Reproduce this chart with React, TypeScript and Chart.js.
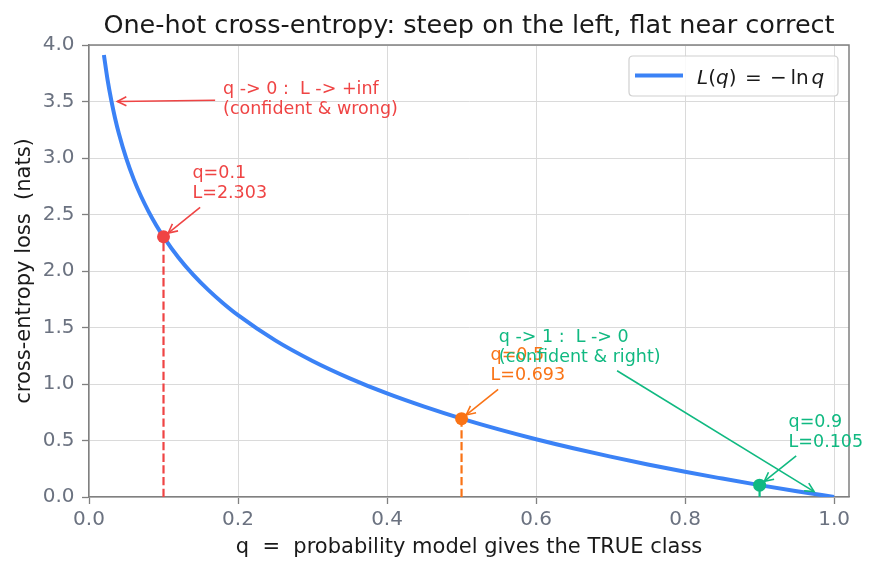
import React, { useEffect, useRef } from "react";
import { Chart, registerables } from "chart.js";

Chart.register(...registerables);

const FONT = '"DejaVu Sans", "Noto Sans", sans-serif';

// samples of the plotted curve L(q) = -ln q
const qValues = [0.02, 0.025, 0.03, 0.035, 0.04, 0.05, 0.06, 0.07, 0.08, 0.09, 0.1, 0.12, 0.14, 0.16, 0.18, 0.2, 0.25, 0.3, 0.35, 0.4, 0.45, 0.5, 0.55, 0.6, 0.65, 0.7, 0.75, 0.8, 0.85, 0.9, 0.95, 1.0];
const lossValues = [3.912, 3.689, 3.507, 3.352, 3.219, 2.996, 2.813, 2.659, 2.526, 2.408, 2.303, 2.12, 1.966, 1.833, 1.715, 1.609, 1.386, 1.204, 1.05, 0.916, 0.799, 0.693, 0.598, 0.511, 0.431, 0.357, 0.288, 0.223, 0.163, 0.105, 0.051, 0.0];

const xTicks = [0.0, 0.2, 0.4, 0.6, 0.8, 1.0];
const yTicks = [0.0, 0.5, 1.0, 1.5, 2.0, 2.5, 3.0, 3.5, 4.0];

const markedQ = [0.1, 0.5, 0.9];
const markedLoss = [2.303, 0.693, 0.105];
const markedColors = ["#ef4444", "#f97316", "#10b981"];

const limitLines = [
  ["q -> 0 :  L -> +inf", "(confident & wrong)"],
  ["q -> 1 :  L -> 0", "(confident & right)"],
];
const limitTargetQ = [0.03, 0.98];
const limitTargetL = [3.5, 0.02];
const limitTextQ = [0.18, 0.55];
const limitTextL = [3.48, 1.28];
const limitColors = ["#ef4444", "#10b981"];

const titleText = "One-hot cross-entropy: steep on the left, flat near correct";
const xLabel = "q  =  probability model gives the TRUE class";
const yLabel = "cross-entropy loss  (nats)";

const BLUE = "#3b82f6";
const TICK_GRAY = "#6b7280";
const SPINE = "#808080";
const DARK = "#1a1a1a";

function drawArrow(ctx: CanvasRenderingContext2D, sx: number, sy: number, ex: number, ey: number, color: string) {
  ctx.strokeStyle = color;
  ctx.lineWidth = 1.6;
  ctx.setLineDash([]);
  ctx.beginPath();
  ctx.moveTo(sx, sy);
  ctx.lineTo(ex, ey);
  ctx.stroke();
  const ang = Math.atan2(ey - sy, ex - sx);
  const c = Math.cos(ang), s = Math.sin(ang);
  const hl = 9, hw = 4.5;
  ctx.beginPath();
  ctx.moveTo(ex - hl * c + hw * s, ey - hl * s - hw * c);
  ctx.lineTo(ex, ey);
  ctx.lineTo(ex - hl * c - hw * s, ey - hl * s + hw * c);
  ctx.stroke();
}

function drawNote(ctx: CanvasRenderingContext2D, lines: string[], x: number, midY: number, tx: number, ty: number, color: string) {
  const fs = 17.5, lh = 20;
  ctx.font = `${fs}px ${FONT}`;
  const n = lines.length;
  const baselines = lines.map((_, k) => midY + (k - (n - 1) / 2) * lh);
  const w = Math.max(...lines.map((l) => ctx.measureText(l).width));
  const top = baselines[0] - 0.76 * fs;
  const bottom = baselines[n - 1] + 0.24 * fs;
  const cx = x + w / 2, cy = (top + bottom) / 2;
  const dx = tx - cx, dy = ty - cy;
  let t = Infinity;
  if (dx !== 0) t = Math.min(t, ((dx > 0 ? x + w : x) - cx) / dx);
  if (dy !== 0) t = Math.min(t, ((dy > 0 ? bottom : top) - cy) / dy);
  let sx = cx + dx * t, sy = cy + dy * t;
  const len = Math.hypot(tx - sx, ty - sy);
  const ux = (tx - sx) / len, uy = (ty - sy) / len;
  sx += ux * 8;
  sy += uy * 8;
  const ex = tx - ux * 6, ey = ty - uy * 6;
  drawArrow(ctx, sx, sy, ex, ey, color);
  ctx.fillStyle = color;
  ctx.textAlign = "left";
  ctx.textBaseline = "alphabetic";
  lines.forEach((l, k) => ctx.fillText(l, x, baselines[k]));
}

const overlay = {
  id: "overlay",
  afterDatasetsDraw(chart: any) {
    const { ctx, chartArea: a, scales } = chart;
    const xs = scales.x, ys = scales.y;
    ctx.save();
    // top & right spines
    ctx.strokeStyle = SPINE;
    ctx.lineWidth = 1.5;
    ctx.setLineDash([]);
    ctx.beginPath();
    ctx.moveTo(a.left, a.top);
    ctx.lineTo(a.right, a.top);
    ctx.lineTo(a.right, a.bottom);
    ctx.stroke();

    // point notes
    markedQ.forEach((q, i) => {
      const px = xs.getPixelForValue(q), py = ys.getPixelForValue(markedLoss[i]);
      drawNote(ctx, [`q=${q}`, `L=${markedLoss[i].toFixed(3)}`], px + 29, py - 48.5, px, py, markedColors[i]);
    });
    // limit notes
    limitLines.forEach((lines, i) => {
      drawNote(
        ctx,
        lines,
        xs.getPixelForValue(limitTextQ[i]),
        ys.getPixelForValue(limitTextL[i]),
        xs.getPixelForValue(limitTargetQ[i]),
        ys.getPixelForValue(limitTargetL[i]),
        limitColors[i]
      );
    });

    // legend
    const lx = 629, ly = 56, lw = 209, lhgt = 40, r = 4;
    ctx.beginPath();
    ctx.moveTo(lx + r, ly);
    ctx.lineTo(lx + lw - r, ly);
    ctx.quadraticCurveTo(lx + lw, ly, lx + lw, ly + r);
    ctx.lineTo(lx + lw, ly + lhgt - r);
    ctx.quadraticCurveTo(lx + lw, ly + lhgt, lx + lw - r, ly + lhgt);
    ctx.lineTo(lx + r, ly + lhgt);
    ctx.quadraticCurveTo(lx, ly + lhgt, lx, ly + lhgt - r);
    ctx.lineTo(lx, ly + r);
    ctx.quadraticCurveTo(lx, ly, lx + r, ly);
    ctx.closePath();
    ctx.fillStyle = "rgba(255,255,255,0.85)";
    ctx.fill();
    ctx.strokeStyle = "#d0d0d0";
    ctx.lineWidth = 1.2;
    ctx.stroke();
    ctx.strokeStyle = BLUE;
    ctx.lineWidth = 4;
    ctx.beginPath();
    ctx.moveTo(635, 75.5);
    ctx.lineTo(683, 75.5);
    ctx.stroke();
    const base = 83.5;
    const fsz = 20;
    const reg = `${fsz}px ${FONT}`;
    const ita = `italic ${fsz}px ${FONT}`;
    ctx.fillStyle = DARK;
    ctx.textBaseline = "alphabetic";
    ctx.textAlign = "left";
    let cxp = 697;
    const pieces: [string, string][] = [["L", ita], ["(", reg], ["q", ita], [")", reg]];
    pieces.forEach(([t, f]) => {
      ctx.font = f;
      ctx.fillText(t, cxp, base);
      cxp += ctx.measureText(t).width;
    });
    ctx.font = reg;
    ctx.textAlign = "center";
    ctx.fillText("=", 753.3, base);
    ctx.fillText("\u2212", 778.3, base);
    ctx.textAlign = "left";
    ctx.fillText("ln", 790.5, base);
    ctx.font = ita;
    ctx.fillText("q", 811.5, base);

    // title
    ctx.font = `25.5px ${FONT}`;
    ctx.fillStyle = DARK;
    ctx.textAlign = "center";
    ctx.fillText(titleText, (a.left + a.right) / 2, 33);
    ctx.restore();
  },
};

export default function App() {
  const ref = useRef<HTMLCanvasElement>(null);
  useEffect(() => {
    const canvas = ref.current;
    if (!canvas) return;
    const curve = qValues.map((q, i) => ({ x: q, y: lossValues[i] }));
    const dashed = markedQ.map((q, i) => ({
      data: [
        { x: q, y: 0 },
        { x: q, y: markedLoss[i] },
      ],
      showLine: true,
      borderColor: markedColors[i],
      borderWidth: 2.2,
      borderDash: [8.3, 3.4],
      pointRadius: 0,
      order: 2,
    }));
    const chart = new Chart(canvas, {
      type: "scatter",
      data: {
        datasets: [
          {
            label: "L(q) = -ln q",
            data: curve,
            showLine: true,
            borderColor: BLUE,
            borderWidth: 4,
            pointRadius: 0,
            cubicInterpolationMode: "monotone",
            order: 3,
          } as any,
          ...dashed,
          {
            data: markedQ.map((q, i) => ({ x: q, y: markedLoss[i] })),
            showLine: false,
            pointRadius: 6.5,
            pointBorderWidth: 0,
            pointBackgroundColor: markedColors,
            pointBorderColor: markedColors,
            order: 1,
          },
        ],
      },
      options: {
        responsive: false,
        maintainAspectRatio: false,
        devicePixelRatio: 1,
        animation: false,
        events: [],
        layout: { padding: { top: 45, right: 28, left: 0, bottom: 0 } },
        plugins: {
          legend: { display: false },
          tooltip: { enabled: false },
          title: { display: false },
        },
        scales: {
          x: {
            type: "linear",
            min: 0,
            max: 1.02,
            afterBuildTicks: (s: any) => {
              s.ticks = xTicks.map((v) => ({ value: v }));
            },
            afterFit: (s: any) => {
              s.height = 76;
            },
            ticks: {
              color: TICK_GRAY,
              font: { family: FONT, size: 20 },
              padding: 4,
              maxRotation: 0,
              callback: (v: any) => Number(v).toFixed(1),
            },
            grid: { color: "#dadada", lineWidth: 1, tickColor: SPINE, tickLength: 7, tickWidth: 1.3 },
            border: { color: SPINE, width: 1.5 },
            title: {
              display: true,
              text: xLabel,
              color: DARK,
              font: { family: FONT, size: 21 },
              padding: { top: 0, bottom: 13 },
            },
          },
          y: {
            type: "linear",
            min: 0,
            max: 4,
            afterBuildTicks: (s: any) => {
              s.ticks = yTicks.map((v) => ({ value: v }));
            },
            afterFit: (s: any) => {
              s.width = 89;
            },
            ticks: {
              color: TICK_GRAY,
              font: { family: FONT, size: 20 },
              padding: 7.5,
              callback: (v: any) => Number(v).toFixed(1),
            },
            grid: { color: "#dadada", lineWidth: 1, tickColor: SPINE, tickLength: 7, tickWidth: 1.3 },
            border: { color: SPINE, width: 1.5 },
            title: {
              display: true,
              text: yLabel,
              color: DARK,
              font: { family: FONT, size: 21 },
              padding: { top: 11.5, bottom: 0 },
            },
          },
        },
      },
      plugins: [overlay],
    });
    return () => chart.destroy();
  }, []);
  return (
    <div style={{ position: "absolute", left: 0, top: 0, width: 877, height: 573, background: "#fff" }}>
      <canvas ref={ref} width={877} height={573} style={{ width: 877, height: 573, display: "block" }} />
    </div>
  );
}
